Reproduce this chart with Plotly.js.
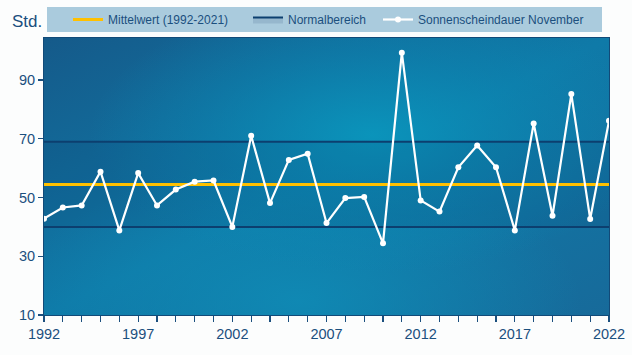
<!DOCTYPE html>
<html><head><meta charset="utf-8">
<script src="https://cdn.plot.ly/plotly-3.0.1.min.js"></script>
<style>html,body{margin:0;padding:0;background:#fcfdfd}#chart{width:632px;height:355px}</style>
</head><body><div id="chart"></div>
<script>
const years = [1992,1993,1994,1995,1996,1997,1998,1999,2000,2001,2002,2003,2004,2005,2006,2007,2008,2009,2010,2011,2012,2013,2014,2015,2016,2017,2018,2019,2020,2021,2022];
const sunshine = [42.8,46.6,47.3,58.8,38.8,58.3,47.3,52.7,55.4,55.8,40.0,71.0,48.1,62.8,64.9,41.3,49.8,50.2,34.4,99.3,49.0,45.2,60.3,67.7,60.3,38.8,75.2,43.8,85.2,42.7,76.1];
const refYears = [1992, 2022];
const meanValue = [54.4, 54.4];
const normalLow = [40, 40];
const normalHigh = [69, 69];
const names = ["Mittelwert (1992-2021)", "Normalbereich", "Sonnenscheindauer November"];
const yTicks = [10,30,50,70,90];
const xTicks = [1992,1997,2002,2007,2012,2017,2022];

const FONT = '"Liberation Sans Narrow", "Liberation Sans", Arial, sans-serif';
const TXT = '#1b4f7e';

const svg = `<svg xmlns="http://www.w3.org/2000/svg" width="565" height="277" viewBox="0 0 565 277" preserveAspectRatio="none">
<defs>
<linearGradient id="g" x1="0" y1="0" x2="1" y2="1">
<stop offset="0" stop-color="#155a8a"/><stop offset="0.5" stop-color="#0f7aa8"/><stop offset="1" stop-color="#176a9a"/>
</linearGradient>
<radialGradient id="r" cx="0.58" cy="0.35" r="0.5">
<stop offset="0" stop-color="#0a97bd" stop-opacity="0.9"/><stop offset="0.6" stop-color="#0a8ab5" stop-opacity="0.4"/><stop offset="1" stop-color="#0a8ab5" stop-opacity="0"/>
</radialGradient>
<radialGradient id="r2" cx="0.45" cy="0.95" r="0.5">
<stop offset="0" stop-color="#0f8cb6" stop-opacity="0.85"/><stop offset="1" stop-color="#0f8cb6" stop-opacity="0"/>
</radialGradient>
</defs>
<rect width="565" height="277" fill="url(#g)"/>
<rect width="565" height="277" fill="url(#r2)"/>
<rect width="565" height="277" fill="url(#r)"/>
</svg>`;
const bgSrc = 'data:image/svg+xml;charset=utf-8,' + encodeURIComponent(svg);

const traces = [
  {x: refYears, y: normalLow, mode: 'lines', name: names[1], line: {color: '#0c3f6f', width: 2}, showlegend: false, legendgroup: 'n', hoverinfo: 'skip'},
  {x: refYears, y: normalHigh, mode: 'lines', name: names[1], line: {color: '#0c3f6f', width: 2}, fill: 'tonexty', fillcolor: 'rgba(10,45,90,0.12)', legend: 'legend2', legendgroup: 'n'},
  {x: refYears, y: meanValue, mode: 'lines', name: names[0], line: {color: '#ffc000', width: 3}, legend: 'legend'},
  {x: years, y: sunshine, mode: 'lines+markers', name: names[2], line: {color: '#ffffff', width: 2.2}, marker: {color: '#ffffff', size: 6}, legend: 'legend3'}
];

const legBase = {orientation: 'h', xref: 'container', yref: 'container', yanchor: 'middle', y: 1 - 19.5/355, bgcolor: 'rgba(0,0,0,0)', font: {family: FONT, size: 12, color: TXT}, itemwidth: 30};

const layout = {
  width: 632, height: 355,
  margin: {l: 44, r: 23, t: 38, b: 40},
  paper_bgcolor: '#fcfdfd',
  plot_bgcolor: '#0f74a2',
  font: {family: FONT, color: TXT},
  showlegend: true,
  legend: Object.assign({}, legBase, {x: 68/632}),
  legend2: Object.assign({}, legBase, {x: 248/632}),
  legend3: Object.assign({}, legBase, {x: 378/632}),
  xaxis: {
    range: [1992, 2022], tickvals: xTicks, ticks: 'outside', ticklen: 6, tickcolor: '#1b4f7e', tickwidth: 1.2,
    minor: {dtick: 1, tick0: 1992, ticks: 'outside', ticklen: 6, tickcolor: '#1b4f7e', tickwidth: 1.2, showgrid: false},
    showgrid: false, zeroline: false, showline: true, linecolor: '#124a78', linewidth: 1, mirror: true,
    tickfont: {family: FONT, size: 14.5, color: TXT}
  },
  yaxis: {
    range: [10, 104.3], tickvals: yTicks, ticks: 'outside', ticklen: 5, tickcolor: '#1b4f7e', tickwidth: 1.2,
    showgrid: false, zeroline: false, showline: true, linecolor: '#124a78', linewidth: 1, mirror: true,
    tickfont: {family: FONT, size: 14.5, color: TXT}
  },
  images: [{source: bgSrc, xref: 'paper', yref: 'paper', x: 0, y: 1, sizex: 1, sizey: 1, sizing: 'stretch', xanchor: 'left', yanchor: 'top', layer: 'below'}],
  shapes: [{type: 'rect', xref: 'paper', yref: 'paper', x0: (47-44)/565, x1: (602-44)/565, y0: 1 + (38-32)/277, y1: 1 + (38-7)/277, fillcolor: '#aacbdd', line: {width: 0}, layer: 'below'}],
  annotations: [{text: 'Std.', xref: 'paper', yref: 'paper', x: (10-44)/565, y: 1 + (38-21)/277, xanchor: 'left', yanchor: 'middle', showarrow: false, font: {family: FONT, size: 17, color: TXT}}]
};

Plotly.newPlot('chart', traces, layout, {displayModeBar: false, staticPlot: true});
</script></body></html>
